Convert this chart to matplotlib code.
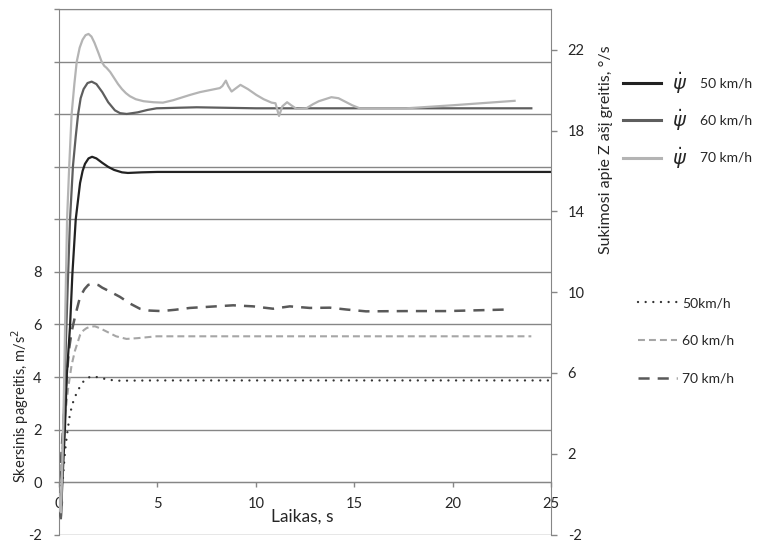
import numpy as np
import matplotlib
matplotlib.use('Agg')
import matplotlib.pyplot as plt
from matplotlib.lines import Line2D

plt.rcParams['font.family'] = ['Lato', 'DejaVu Sans']
plt.rcParams['lines.scale_dashes'] = False
plt.rcParams['mathtext.fontset'] = 'dejavusans'
plt.rcParams['axes.unicode_minus'] = False

# Yaw rate (right axis, deg/s)
t_yaw50 = [0, 0.05, 0.1, 0.17, 0.3, 0.39, 0.56, 0.68, 0.85, 1.07, 1.2, 1.32, 1.5, 1.68, 1.9, 2.2, 2.5, 2.8,
           3.2, 3.5, 4.2, 5, 10, 15, 20, 25]
yaw50 = [0, -0.8, -1.1, 0.6, 3.2, 5.8, 8.3, 10.9, 13.6, 15.4, 16.0, 16.35, 16.62, 16.7, 16.62, 16.4, 16.2, 16.05,
         15.93, 15.9, 15.93, 15.95, 15.95, 15.95, 15.95, 15.95]

t_yaw60 = [0, 0.05, 0.1, 0.15, 0.25, 0.35, 0.45, 0.56, 0.71, 0.85, 0.97, 1.1, 1.25, 1.45, 1.66, 1.9, 2.2, 2.5,
           2.84, 3.1, 3.44, 4.0, 4.5, 4.96, 7, 10, 15, 20, 24]
yaw60 = [0, -1.0, -1.2, 0.5, 4.0, 7.5, 10.5, 13.6, 16.25, 17.7, 18.8, 19.6, 20.05, 20.35, 20.42, 20.3, 19.9, 19.4,
         19.0, 18.86, 18.82, 18.9, 19.02, 19.1, 19.15, 19.1, 19.1, 19.1, 19.1]

t_yaw70 = [0, 0.05, 0.1, 0.15, 0.25, 0.33, 0.41, 0.52, 0.64, 0.78, 0.9, 1.05, 1.2, 1.35, 1.5, 1.65, 1.8, 2.0,
           2.17, 2.3, 2.42, 2.6, 2.8, 3.0, 3.2, 3.4, 3.6, 3.9, 4.3, 4.8, 5.28, 5.8, 6.65, 7.16, 8.17, 8.3, 8.48,
           8.6, 8.77, 9.0, 9.22, 9.6, 10.03, 10.4, 10.8, 11.0, 11.18, 11.35, 11.59, 11.8, 12.07, 12.57, 12.9,
           13.2, 13.84, 14.2, 14.5, 14.9, 15.28, 17.65, 20, 23.15]
yaw70 = [0, -0.8, -0.9, 0.8, 5.0, 9.5, 13.6, 16.25, 18.8, 20.3, 21.4, 22.1, 22.5, 22.72, 22.78, 22.65, 22.35, 21.85,
         21.4, 21.2, 21.1, 20.9, 20.6, 20.3, 20.05, 19.85, 19.7, 19.55, 19.45, 19.4, 19.38, 19.5, 19.76, 19.9,
         20.1, 20.2, 20.47, 20.2, 19.93, 20.1, 20.26, 20.05, 19.76, 19.55, 19.38, 19.35, 18.72, 19.2, 19.4, 19.25,
         19.07, 19.1, 19.3, 19.45, 19.65, 19.6, 19.45, 19.25, 19.1, 19.1, 19.25, 19.47]

# Lateral acceleration (left axis, m/s2)
t_acc50 = [0, 0.1, 0.18, 0.22, 0.27, 0.34, 0.44, 0.56, 0.73, 0.9, 1.1, 1.29, 1.45, 1.66, 1.85, 2.08, 2.5, 2.93,
           5, 10, 15, 20, 25]
acc50 = [0, -0.2, 0, 0.33, 0.84, 1.41, 1.98, 2.61, 3.08, 3.4, 3.68, 3.88, 3.97, 4.02, 4.01, 3.97, 3.9, 3.86,
         3.87, 3.87, 3.87, 3.87, 3.87]

t_acc60 = [0, 0.1, 0.2, 0.35, 0.47, 0.64, 0.81, 1.07, 1.25, 1.4, 1.6, 1.83, 2.1, 2.5, 2.9, 3.43, 4.0, 4.96,
           10, 15, 20, 24]
acc60 = [0, 0.6, 1.6, 2.8, 3.6, 4.45, 5.0, 5.6, 5.78, 5.86, 5.92, 5.93, 5.85, 5.7, 5.55, 5.45, 5.48, 5.55,
         5.55, 5.55, 5.55, 5.55]

t_acc70 = [0, 0.1, 0.2, 0.35, 0.5, 0.64, 0.81, 1.07, 1.3, 1.49, 1.74, 2.0, 2.2, 2.6, 3.1, 3.6, 4.11, 4.6, 5.21,
           5.9, 6.65, 8.85, 9.86, 10.88, 11.73, 12.74, 13.76, 14.6, 15.6, 17.65, 19.68, 22.8]
acc70 = [0, 0.8, 2.0, 3.6, 5.0, 5.72, 6.29, 7.05, 7.35, 7.51, 7.55, 7.5, 7.4, 7.25, 7.05, 6.8, 6.6, 6.53, 6.51,
         6.56, 6.63, 6.73, 6.69, 6.6, 6.69, 6.63, 6.64, 6.57, 6.5, 6.51, 6.51, 6.57]

speeds = ['50 km/h', '60 km/h', '70 km/h']
speeds2 = ['50km/h', '60 km/h', '70 km/h']

txt = '#262626'
gridc = '#868686'

fig = plt.figure(figsize=(7.57, 5.42), dpi=100)
ax = fig.add_axes([59 / 757, 7.4 / 542, 492 / 757, 525.3 / 542])
ax.set_xlim(0, 25)
ax.set_ylim(-2, 18)

ax.set_yticks(np.arange(-2, 19, 2))
ax.set_yticklabels([str(v) if v <= 8 else '' for v in range(-2, 19, 2)])
ax.set_xticks(np.arange(0, 26, 5))
ax.yaxis.grid(True, color=gridc, lw=1.0)
ax.set_axisbelow(True)

ax.spines['bottom'].set_position(('data', 0))
for s in ['bottom', 'left', 'top', 'right']:
    ax.spines[s].set_color(gridc)
ax.spines['right'].set_visible(False)
ax.tick_params(axis='y', colors=gridc, labelcolor=txt, length=3.4, width=1, pad=9, labelsize=10.5)
ax.tick_params(axis='x', colors=gridc, labelcolor=txt, length=3.6, width=1, pad=7, labelsize=10.5)

ax.plot(t_acc50, acc50, color='#333333', lw=1.7, linestyle=(0, (0.01, 5.5)), dash_capstyle='round')
ax.plot(t_acc60, acc60, color='#a6a6a6', lw=1.5, linestyle=(0, (5, 2.9)))
ax.plot(t_acc70, acc70, color='#595959', lw=1.8, linestyle=(0, (8, 5.8)))

ax2 = ax.twinx()
ax2.set_ylim(-2, 24)
ax2.set_yticks(np.arange(-2, 23, 4))
for s in ['bottom', 'left', 'top']:
    ax2.spines[s].set_visible(False)
ax2.spines['right'].set_color(gridc)
ax2.tick_params(axis='y', colors=gridc, labelcolor=txt, length=4, width=1, pad=8, labelsize=10.5)

ax2.plot(t_yaw50, yaw50, color='#222222', lw=1.6, solid_joinstyle='round')
ax2.plot(t_yaw60, yaw60, color='#5e5e5e', lw=1.6, solid_joinstyle='round')
ax2.plot(t_yaw70, yaw70, color='#b4b4b4', lw=1.6, solid_joinstyle='round')

fig.text(302 / 757, 1 - 517 / 542, 'Laikas, s', ha='center', va='center', fontsize=12.5, color=txt)
fig.text(20 / 757, 1 - 406 / 542, 'Skersinis pagreitis, m/s$^2$', rotation=90, ha='center', va='center',
         fontsize=10.5, color=txt)
fig.text(606 / 757, 1 - 150 / 542, 'Sukimosi apie Z ašį greitis, °/s', rotation=90, ha='center', va='center',
         fontsize=11.5, color=txt)

# yaw legend: psi symbols as legend labels, speeds written next to them
h1 = [Line2D([], [], color='#222222', lw=2.2),
      Line2D([], [], color='#5e5e5e', lw=2.2),
      Line2D([], [], color='#b4b4b4', lw=2.2)]
leg1 = fig.legend(h1, [r'$\dot{\psi}$'] * 3, loc='upper left', bbox_to_anchor=(623 / 757, 1 - 70 / 542),
                  frameon=False, borderpad=0, borderaxespad=0, handlelength=1.96, handletextpad=0.55,
                  labelspacing=0.62, fontsize=14, labelcolor=txt)
for i, s in enumerate(speeds):
    fig.text(700 / 757, 1 - (83 + 37.5 * i) / 542, s, ha='left', va='center', fontsize=10, color=txt)

h2 = [Line2D([], [], color='#333333', lw=1.7, linestyle=(0, (0.01, 5.5)), dash_capstyle='round'),
      Line2D([], [], color='#a6a6a6', lw=1.5, linestyle=(0, (5, 2.9))),
      Line2D([], [], color='#595959', lw=1.8, linestyle=(0, (8, 5.8)))]
leg2 = fig.legend(h2, speeds2, loc='upper left', bbox_to_anchor=(638 / 757, 1 - 297 / 542), frameon=False,
                  borderpad=0, borderaxespad=0, handlelength=2.8, handletextpad=0.36, labelspacing=1.85,
                  fontsize=10, labelcolor=txt)

fig.savefig('out.png', dpi=100)
